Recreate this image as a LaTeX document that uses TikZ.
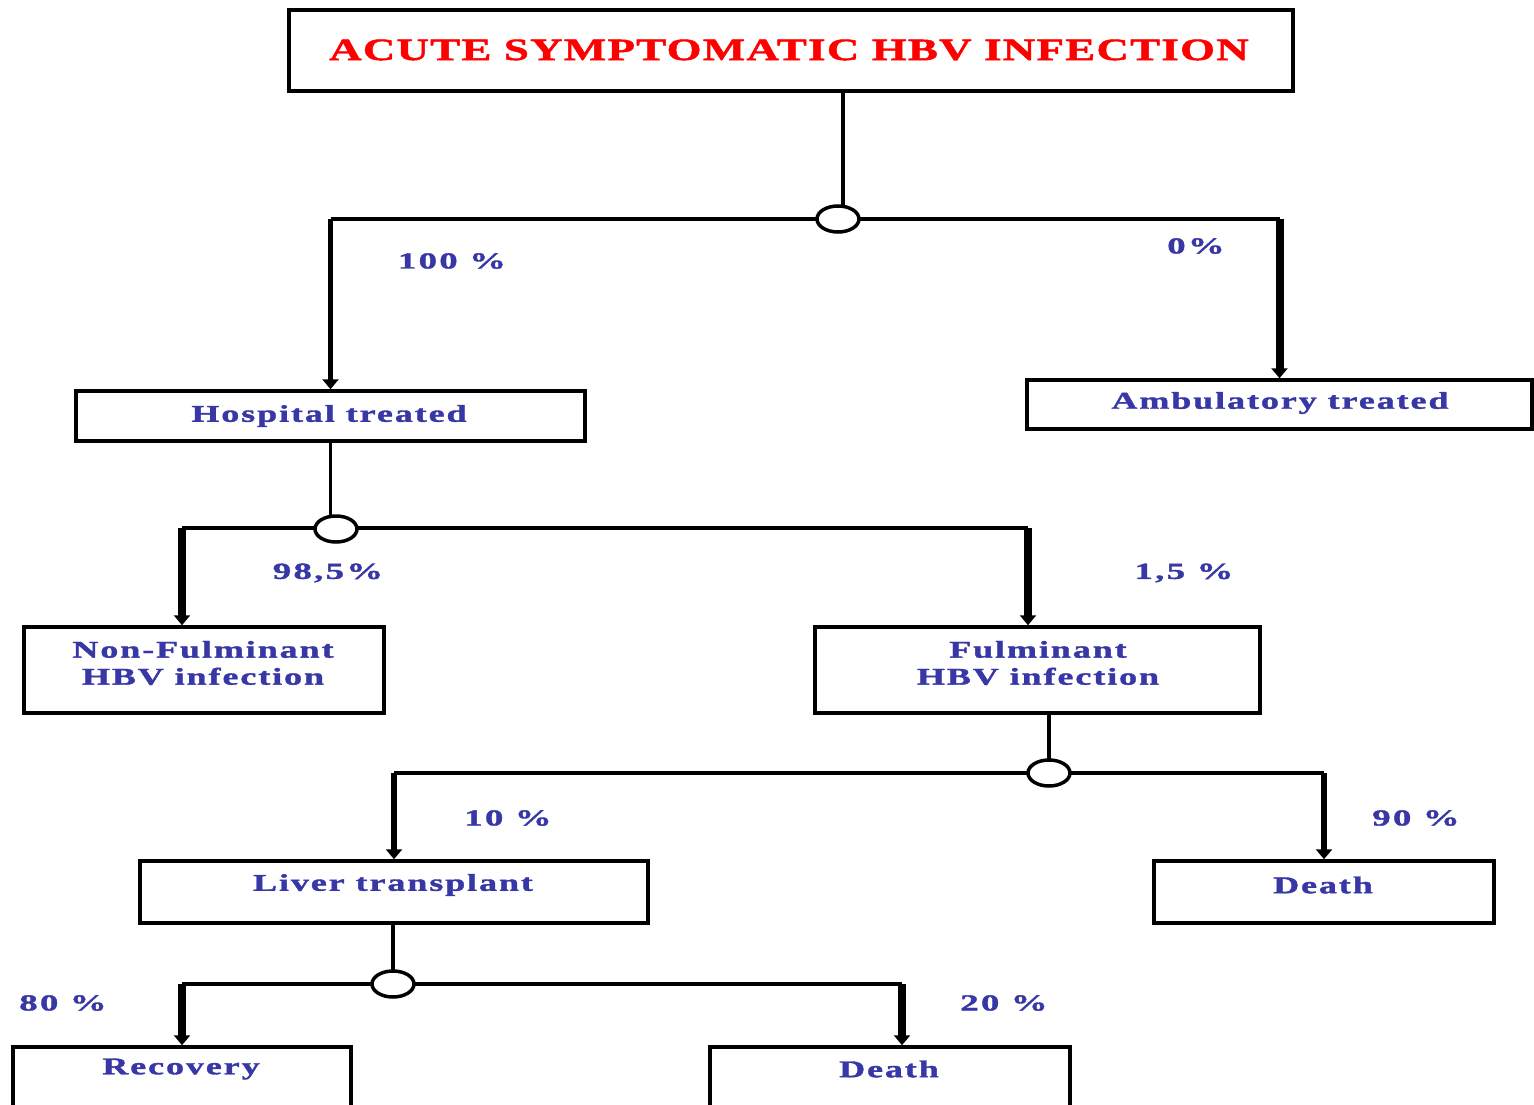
\documentclass[tikz,border=0pt]{standalone}
\usepackage{fontspec}
\setmainfont{Liberation Serif}
\newfontfamily\dfont[FakeStretch=1.5,LetterSpace=8,FakeBold=1.5]{Liberation Serif}
\newfontfamily\pfont[FakeStretch=1.6,LetterSpace=10,FakeBold=1.5]{Liberation Serif}
\newfontfamily\tfont[FakeStretch=1.45,LetterSpace=4,FakeBold=1.5]{Liberation Serif}
\usetikzlibrary{arrows.meta,shapes.geometric}
\definecolor{lblue}{RGB}{55,55,165}
\definecolor{tred}{RGB}{255,0,0}
\tikzset{
  box/.style={draw, line width=3.5pt, inner sep=0pt, fill=white},
  btxt/.style={font=\dfont\bfseries\fontsize{24}{27}\selectfont, text=lblue, align=center, inner sep=0pt},
  pct/.style={font=\pfont\bfseries\fontsize{23}{26}\selectfont, text=lblue, inner sep=0pt},
  conn/.style={line width=3.5pt},
  arr/.style={line width=#1, -{Triangle[width=16pt,length=10pt]}},
  hub/.style={draw, ellipse, line width=3.5pt, fill=white, minimum width=42pt, minimum height=26pt, inner sep=0pt}
}
\begin{document}
\begin{tikzpicture}[x=1pt,y=-1pt]
\useasboundingbox[fill=white] (0,0) rectangle (1534,1105);

% boxes
\node[box, minimum width=1004pt, minimum height=81pt] (title) at (791,50.5) {};
\node[font=\tfont\bfseries\fontsize{31}{34}\selectfont, text=tred, inner sep=0pt] (titletxt) at (789,50) {ACUTE SYMPTOMATIC HBV INFECTION};

\node[box, minimum width=509pt, minimum height=50pt] (hosp) at (330.5,416) {};
\node[btxt] (hosptxt) at (329,416) {Hospital treated};

\node[box, minimum width=505pt, minimum height=49pt] (amb) at (1279.5,404.5) {};
\node[btxt] (ambtxt) at (1280,403) {Ambulatory treated};

\node[box, minimum width=360pt, minimum height=86pt] (nonful) at (204,670) {};
\node[btxt] (nonfultxt) at (203,663) {Non-Fulminant\\HBV infection};

\node[box, minimum width=445pt, minimum height=86pt] (ful) at (1037.5,670) {};
\node[btxt] (fultxt) at (1038,663) {Fulminant\\HBV infection};

\node[box, minimum width=508pt, minimum height=62pt] (liver) at (394,892) {};
\node[btxt] (livertxt) at (393,885) {Liver transplant};

\node[box, minimum width=340pt, minimum height=62pt] (death1) at (1324,892) {};
\node[btxt] (death1txt) at (1323,885) {Death};

\node[box, minimum width=338pt, minimum height=100pt] (rec) at (182,1097) {};
\node[btxt] (rectxt) at (181,1069) {Recovery};

\node[box, minimum width=360pt, minimum height=100pt] (death2) at (890,1097) {};
\node[btxt] (death2txt) at (889,1069) {Death};

% hub coordinates
\coordinate (h1) at (838,219);
\coordinate (h2) at (336,529);
\coordinate (h3) at (1049,773);
\coordinate (h4) at (393,984);
\coordinate (c2l) at (182,528);
\coordinate (c2r) at (1028,528);
\coordinate (c4r) at (902,984);

% level 1
\draw[conn] ([xshift=52pt]title.south) -- ([xshift=5pt]h1);
\draw[conn] (hosp.north |- h1) -- (amb.north |- h1);
\draw[arr=5pt] (hosp.north |- h1) -- (hosp.north);
\draw[arr=8pt] (amb.north |- h1) -- (amb.north);
\node[hub] (hub1) at (h1) {};

% level 2
\draw[conn] (hosp.south) -- (hosp.south |- h2);
\draw[conn] (c2l) -- (c2r);
\draw[arr=8pt] (c2l) -- (c2l |- nonful.north);
\draw[arr=8pt] (c2r) -- (c2r |- ful.north);
\node[hub] (hub2) at (h2) {};

% level 3
\draw[conn] (h3 |- ful.south) -- (h3);
\draw[conn] (liver.north |- h3) -- (death1.north |- h3);
\draw[arr=6pt] (liver.north |- h3) -- (liver.north);
\draw[arr=6pt] (death1.north |- h3) -- (death1.north);
\node[hub] (hub3) at (h3) {};

% level 4
\draw[conn] (h4 |- liver.south) -- (h4);
\draw[conn] (rec.north |- h4) -- (c4r);
\draw[arr=8pt] (rec.north |- h4) -- (rec.north);
\draw[arr=8pt] (c4r) -- (c4r |- death2.north);
\node[hub] (hub4) at (h4) {};

% percentages
\node[pct] (p1) at (452,261) {100 \%};
\node[pct] (p2) at (1196,246) {0\%};
\node[pct] (p3) at (328,573) {98,5\%};
\node[pct] (p4) at (1184,573) {1,5 \%};
\node[pct] (p5) at (508,818) {10 \%};
\node[pct] (p6) at (1416,818) {90 \%};
\node[pct] (p7) at (63,1003) {80 \%};
\node[pct] (p8) at (1004,1003) {20 \%};
\end{tikzpicture}
\end{document}
